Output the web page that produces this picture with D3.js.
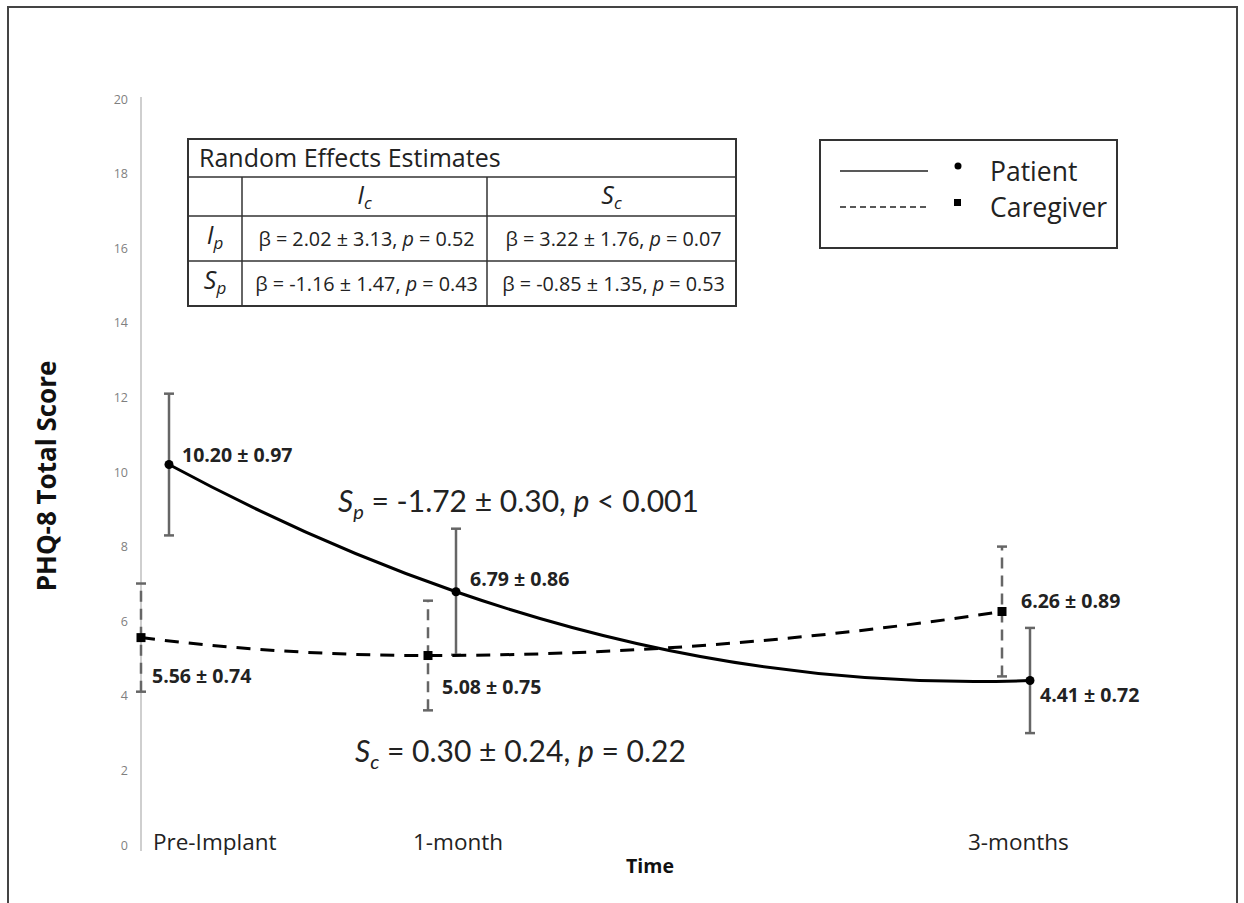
<!DOCTYPE html>
<html>
<head>
<meta charset="utf-8">
<script src="https://cdn.jsdelivr.net/npm/d3@7/dist/d3.min.js"></script>
<style>
  html, body { margin: 0; padding: 0; background: #fff; }
  svg { display: block; }
  text { font-family: "Open Sans", Lato, sans-serif; }
</style>
</head>
<body>
<svg id="chart" width="1244" height="903"></svg>
<script>
// ---------- data ----------
const timeLabels = ["Pre-Implant", "1-month", "3-months"];
const timeMonths = [0, 1, 3];
const patientMean = [10.20, 6.79, 4.41];
const patientSE   = [0.97, 0.86, 0.72];
const patientCI   = [1.90, 1.69, 1.41];
const caregiverMean = [5.56, 5.08, 6.26];
const caregiverSE   = [0.74, 0.75, 0.89];
const caregiverCI   = [1.45, 1.47, 1.74];
const yTicks = [0, 2, 4, 6, 8, 10, 12, 14, 16, 18, 20];
const seriesNames = ["Patient", "Caregiver"];
const tableHeader = "Random Effects Estimates";
const tableCols = [["I", "c"], ["S", "c"]];
const tableRows = [["I", "p"], ["S", "p"]];
const tableCells = [
  [[2.02, 3.13, "0.52"], [3.22, 1.76, "0.07"]],
  [[-1.16, 1.47, "0.43"], [-0.85, 1.35, "0.53"]]
];
const slopeP = [-1.72, 0.30, "< 0.001"];
const slopeC = [0.30, 0.24, "= 0.22"];

// ---------- smoothed curve (spreadsheet-style smoothing) ----------
function SmoothCurve(context) { this._context = context; }
SmoothCurve.prototype = {
  areaStart() {}, areaEnd() {},
  lineStart() { this._x = []; this._y = []; },
  point(x, y) { this._x.push(+x); this._y.push(+y); },
  lineEnd() {
    const X = this._x, Y = this._y, n = X.length, c = this._context;
    if (!n) return;
    c.moveTo(X[0], Y[0]);
    if (n < 3) { for (let i = 1; i < n; i++) c.lineTo(X[i], Y[i]); return; }
    const h = [], s = [], m = new Array(n);
    for (let i = 0; i < n - 1; i++) { h.push(X[i + 1] - X[i]); s.push((Y[i + 1] - Y[i]) / h[i]); }
    for (let i = 1; i < n - 1; i++) {
      m[i] = s[i - 1] * s[i] <= 0 ? 0 : (s[i - 1] * h[i] + s[i] * h[i - 1]) / (h[i - 1] + h[i]);
    }
    m[0] = 2 * s[0] - m[1];
    m[n - 1] = 2 * s[n - 2] - m[n - 2];
    for (let i = 0; i < n - 1; i++) {
      const d = h[i] / 3;
      c.bezierCurveTo(X[i] + d, Y[i] + m[i] * d, X[i + 1] - d, Y[i + 1] - m[i + 1] * d, X[i + 1], Y[i + 1]);
    }
  }
};
const curveSmooth = ctx => new SmoothCurve(ctx);

// ---------- layout ----------
const svg = d3.select("#chart");
const y = d3.scaleLinear().domain([0, 20]).range([845, 99]);
const x = d3.scaleLinear().domain([0, 3]).range([169, 1030]);
const cgOffset = -28;
const xP = t => x(t);
const xC = t => x(t) + cgOffset;

// outer border
svg.append("path")
  .attr("d", "M8,903 L8,7 L1237,7 L1237,903")
  .attr("fill", "none").attr("stroke", "#444").attr("stroke-width", 2);

// y axis
const yAxis = d3.axisLeft(y).tickValues(yTicks).tickSize(0).tickPadding(0);
const gy = svg.append("g").attr("transform", "translate(128,0)").call(yAxis);
gy.select(".domain").remove();
gy.selectAll("text").attr("fill", "#7f7f7f").style("font-size", "12.5px")
  .style("font-family", "'Open Sans', sans-serif");
svg.append("line").attr("x1", 141).attr("x2", 141).attr("y1", 97).attr("y2", 851)
  .attr("stroke", "#cfcfcf").attr("stroke-width", 2);

// x labels
const xLabelDx = [-16, -43, -62];
svg.selectAll(".xl").data(timeLabels).enter().append("text")
  .attr("x", (d, i) => x(timeMonths[i]) + xLabelDx[i])
  .attr("y", 850)
  .attr("fill", "#222").style("font-size", "22.5px")
  .text(d => d);

// axis titles
svg.append("text").attr("x", 650).attr("y", 873).attr("text-anchor", "middle")
  .style("font-size", "19.5px").style("font-weight", "bold").attr("fill", "#111").text("Time");
svg.append("text").attr("transform", "translate(56,476) rotate(-90)").attr("text-anchor", "middle")
  .style("font-size", "26px").style("font-weight", "bold").attr("fill", "#111").text("PHQ-8 Total Score");

// error bars
function errorBars(mean, ci, xf, dashed) {
  const g = svg.append("g").attr("stroke", "#666").attr("stroke-width", 2.5).attr("fill", "none");
  mean.forEach((m, i) => {
    const xx = xf(timeMonths[i]);
    g.append("line").attr("x1", xx).attr("x2", xx)
      .attr("y1", y(m - ci[i])).attr("y2", y(m + ci[i]))
      .attr("stroke-dasharray", dashed ? "11,7" : null);
    [m - ci[i], m + ci[i]].forEach(v => {
      g.append("line").attr("x1", xx - 5).attr("x2", xx + 5)
        .attr("y1", y(v)).attr("y2", y(v));
    });
  });
}
errorBars(patientMean, patientCI, xP, false);
errorBars(caregiverMean, caregiverCI, xC, true);

// lines
const lineP = d3.line().x((d, i) => xP(timeMonths[i])).y(d => y(d)).curve(curveSmooth);
const lineC = d3.line().x((d, i) => xC(timeMonths[i])).y(d => y(d)).curve(curveSmooth);
svg.append("path").attr("d", lineP(patientMean)).attr("fill", "none").attr("stroke", "#000").attr("stroke-width", 3);
svg.append("path").attr("d", lineC(caregiverMean)).attr("fill", "none").attr("stroke", "#000")
  .attr("stroke-width", 3).attr("stroke-dasharray", "14,10");

// markers
svg.selectAll(".pm").data(patientMean).enter().append("circle")
  .attr("cx", (d, i) => xP(timeMonths[i])).attr("cy", d => y(d)).attr("r", 4.5).attr("fill", "#000");
svg.selectAll(".cm").data(caregiverMean).enter().append("rect")
  .attr("x", (d, i) => xC(timeMonths[i]) - 4.5).attr("y", d => y(d) - 4.5)
  .attr("width", 9).attr("height", 9).attr("fill", "#000");

// data labels
const fmt = (m, s) => `${m.toFixed(2)} ± ${s.toFixed(2)}`;
const pLab = [[13, -3], [14, -6], [10, 21]];
const cLab = [[11, 45], [14, 38], [19, -4]];
patientMean.forEach((m, i) => {
  svg.append("text").attr("x", xP(timeMonths[i]) + pLab[i][0]).attr("y", y(m) + pLab[i][1])
    .style("font-size", "19.5px").style("font-weight", "bold").attr("fill", "#222").text(fmt(m, patientSE[i]));
});
caregiverMean.forEach((m, i) => {
  svg.append("text").attr("x", xC(timeMonths[i]) + cLab[i][0]).attr("y", y(m) + cLab[i][1])
    .style("font-size", "19.5px").style("font-weight", "bold").attr("fill", "#222").text(fmt(m, caregiverSE[i]));
});

// slope annotations
function slopeText(xx, yy, sub, vals) {
  const t = svg.append("text").attr("x", xx).attr("y", yy).style("font-size", "30px")
    .style("font-family", "Lato, sans-serif").attr("fill", "#222");
  t.append("tspan").style("font-style", "italic").text("S");
  t.append("tspan").style("font-style", "italic").style("font-size", "20px").attr("dy", 7).text(sub);
  t.append("tspan").attr("dy", -7).text(` = ${vals[0].toFixed(2)} ± ${vals[1].toFixed(2)}, `);
  t.append("tspan").style("font-style", "italic").text("p");
  t.append("tspan").text(` ${vals[2]}`);
}
slopeText(338, 512, "p", slopeP);
slopeText(355, 762, "c", slopeC);

// table
const tx = [188, 242, 487, 736];
const ty = [139, 177, 216, 261, 306];
const tg = svg.append("g");
tg.append("rect").attr("x", tx[0]).attr("y", ty[0]).attr("width", tx[3] - tx[0]).attr("height", ty[4] - ty[0])
  .attr("fill", "#fff").attr("stroke", "#333").attr("stroke-width", 2);
ty.slice(1, 4).forEach(v => tg.append("line").attr("x1", tx[0]).attr("x2", tx[3]).attr("y1", v).attr("y2", v)
  .attr("stroke", "#333").attr("stroke-width", 1.5));
tx.slice(1, 3).forEach(v => tg.append("line").attr("x1", v).attr("x2", v).attr("y1", ty[1]).attr("y2", ty[4])
  .attr("stroke", "#333").attr("stroke-width", 1.5));
tg.append("text").attr("x", 199).attr("y", 167).style("font-size", "25px").attr("fill", "#222").text(tableHeader);
function subLabel(xx, yy, lab) {
  const t = tg.append("text").attr("x", xx).attr("y", yy).attr("text-anchor", "middle")
    .style("font-size", "25px").style("font-style", "italic").attr("fill", "#222");
  t.append("tspan").text(lab[0]);
  t.append("tspan").style("font-size", "17px").attr("dy", 5).text(lab[1]);
}
tableCols.forEach((c, j) => subLabel((tx[j + 1] + tx[j + 2]) / 2, 204, c));
tableRows.forEach((r, i) => subLabel((tx[0] + tx[1]) / 2, (ty[i + 2] + ty[i + 3]) / 2 + 5, r));
tableCells.forEach((row, i) => row.forEach((c, j) => {
  const t = tg.append("text").attr("x", (tx[j + 1] + tx[j + 2]) / 2 + 2).attr("y", (ty[i + 2] + ty[i + 3]) / 2 + 7)
    .attr("text-anchor", "middle").style("font-size", "19.8px").attr("fill", "#222");
  t.append("tspan").text(`β = ${c[0].toFixed(2)} ± ${c[1].toFixed(2)}, `);
  t.append("tspan").style("font-style", "italic").text("p");
  t.append("tspan").text(` = ${c[2]}`);
}));

// legend
const lg = svg.append("g");
lg.append("rect").attr("x", 820).attr("y", 140).attr("width", 297).attr("height", 108)
  .attr("fill", "#fff").attr("stroke", "#333").attr("stroke-width", 2);
seriesNames.forEach((n, i) => {
  const yy = 171 + i * 36;
  lg.append("line").attr("x1", 840).attr("x2", 928).attr("y1", yy).attr("y2", yy)
    .attr("stroke", "#222").attr("stroke-width", 1.5).attr("stroke-dasharray", i ? "6,4" : null);
  if (i === 0) lg.append("circle").attr("cx", 958).attr("cy", yy - 5).attr("r", 3.5).attr("fill", "#000");
  else lg.append("rect").attr("x", 954).attr("y", yy - 8).attr("width", 7).attr("height", 7).attr("fill", "#000");
  lg.append("text").attr("x", 990).attr("y", yy + 10).style("font-size", "26.5px").attr("fill", "#222").text(n);
});
</script>
</body>
</html>
